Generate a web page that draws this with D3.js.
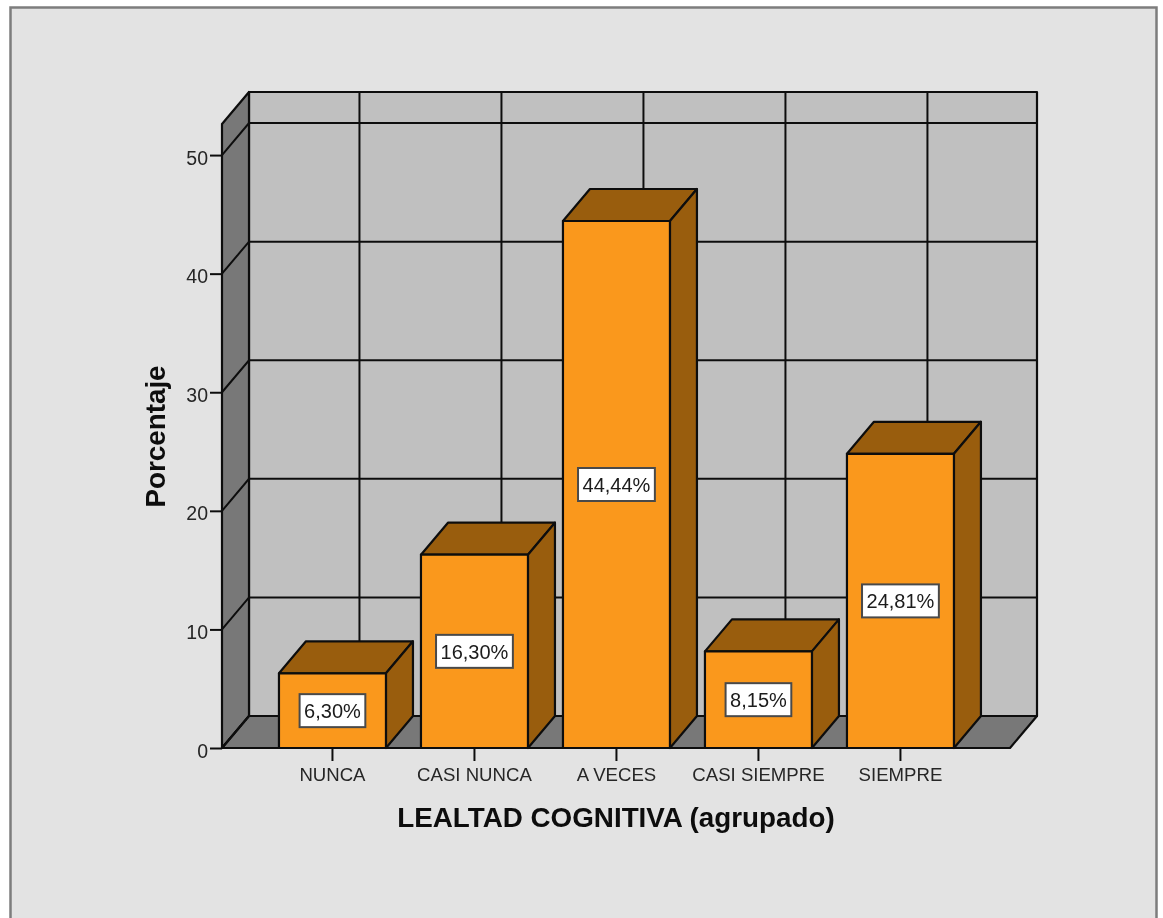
<!DOCTYPE html>
<html><head><meta charset="utf-8">
<script src="https://cdn.jsdelivr.net/npm/d3@7"></script>
<style>
html,body{margin:0;padding:0;background:#fff;overflow:hidden}
svg{display:block}
text{font-family:"Liberation Sans",Arial,sans-serif}
</style></head><body>
<svg id="c" width="1163" height="918"></svg>
<script>
const categories=["NUNCA","CASI NUNCA","A VECES","CASI SIEMPRE","SIEMPRE"];
const percentages=[6.30,16.30,44.44,8.15,24.81];
const yTicks=[0,10,20,30,40,50];
const xTitle="LEALTAD COGNITIVA (agrupado)";
const yTitle="Porcentaje";

const svg=d3.select("#c");
const defs=svg.append("defs");
defs.append("filter").attr("id","soft").attr("x","-2%").attr("y","-2%").attr("width","104%").attr("height","104%")
  .append("feGaussianBlur").attr("stdDeviation",0.45);
const root=svg.append("g").attr("filter","url(#soft)");

const DX=27,DY=-32, INK="#0e0e0e";
const x=d3.scaleBand().domain(categories).range([222,1010]).paddingInner(0.2465).paddingOuter(0.398).align(0.504);
const y=d3.scaleLinear().domain([0,52.62]).range([748,124]);
const [x0,x1]=x.range(), y0=y(0), yT=y.range()[1];
const poly=(g,pts,fill)=>g.append("polygon").attr("points",pts.map(p=>p.join(",")).join(" "))
  .attr("fill",fill).attr("stroke",INK).attr("stroke-width",2.2).attr("stroke-linejoin","round");

// panel
root.append("rect").attr("x",10.5).attr("y",7.5).attr("width",1146).attr("height",930)
  .attr("fill","#e3e3e3").attr("stroke","#7d7d7d").attr("stroke-width",2.5);

// walls
const walls=root.append("g");
poly(walls,[[x0+DX,yT+DY],[x1+DX,yT+DY],[x1+DX,y0+DY],[x0+DX,y0+DY]],"#c0c0c0");
poly(walls,[[x0,yT],[x0+DX,yT+DY],[x0+DX,y0+DY],[x0,y0]],"#787878");
poly(walls,[[x0,y0],[x0+DX,y0+DY],[x1+DX,y0+DY],[x1,y0]],"#787878");

// grid
const grid=root.append("g").attr("stroke",INK).attr("fill","none").attr("stroke-width",2);
yTicks.forEach(t=>{
  grid.append("polyline").attr("points",`${x0},${y(t)} ${x0+DX},${y(t)+DY} ${x1+DX},${y(t)+DY}`);
});
categories.forEach(c=>{
  const cx=x(c)+x.bandwidth()/2+DX;
  grid.append("line").attr("x1",cx).attr("x2",cx).attr("y1",yT+DY).attr("y2",y0+DY);
});

// axes
const gy=root.append("g").attr("transform",`translate(${x0},0)`)
  .call(d3.axisLeft(y).tickValues(yTicks).tickSize(12).tickPadding(2));
const gx=root.append("g").attr("transform",`translate(0,${y0})`)
  .call(d3.axisBottom(x).tickSize(13).tickPadding(7));
[gy,gx].forEach(g=>{
  g.select(".domain").remove();
  g.selectAll(".tick line").attr("stroke",INK).attr("stroke-width",2);
  g.selectAll("text").attr("fill","#262626").attr("font-family",'"Liberation Sans",Arial,sans-serif');
});
gy.selectAll("text").attr("font-size",19.5).attr("dy","0.47em");
gx.selectAll("text").attr("font-size",18.6);

// bars
const bars=root.append("g").selectAll("g").data(categories).join("g");
bars.each(function(c,i){
  const g=d3.select(this), l=x(c), r=l+x.bandwidth(), t=y(percentages[i]);
  poly(g,[[l,t],[l+DX,t+DY],[r+DX,t+DY],[r,t]],"#995d10");
  poly(g,[[r,t],[r+DX,t+DY],[r+DX,y0+DY],[r,y0]],"#995d10");
  poly(g,[[l,t],[r,t],[r,y0],[l,y0]],"#fa981e");
  const cx=(l+r)/2, cy=y(percentages[i]/2);
  const box=g.append("rect").attr("fill","#fff").attr("stroke","#4a4a4a").attr("stroke-width",2);
  const label=g.append("text").attr("x",cx).attr("y",cy).attr("dy","0.36em").attr("text-anchor","middle")
    .attr("font-size",20).attr("fill","#1a1a1a").text(percentages[i].toFixed(2).replace(".",",")+"%");
  const w=label.node().getComputedTextLength()+9;
  box.attr("x",cx-w/2).attr("y",cy-16.5).attr("width",w).attr("height",33);
});

// titles
root.append("text").attr("x",616).attr("y",827).attr("text-anchor","middle")
  .attr("font-size",27.8).attr("font-weight","bold").attr("fill","#0c0c0c").text(xTitle);
root.append("text").attr("transform","translate(165,436.5) rotate(-90)").attr("text-anchor","middle")
  .attr("font-size",27.8).attr("font-weight","bold").attr("fill","#0c0c0c").text(yTitle);
</script>
</body></html>
